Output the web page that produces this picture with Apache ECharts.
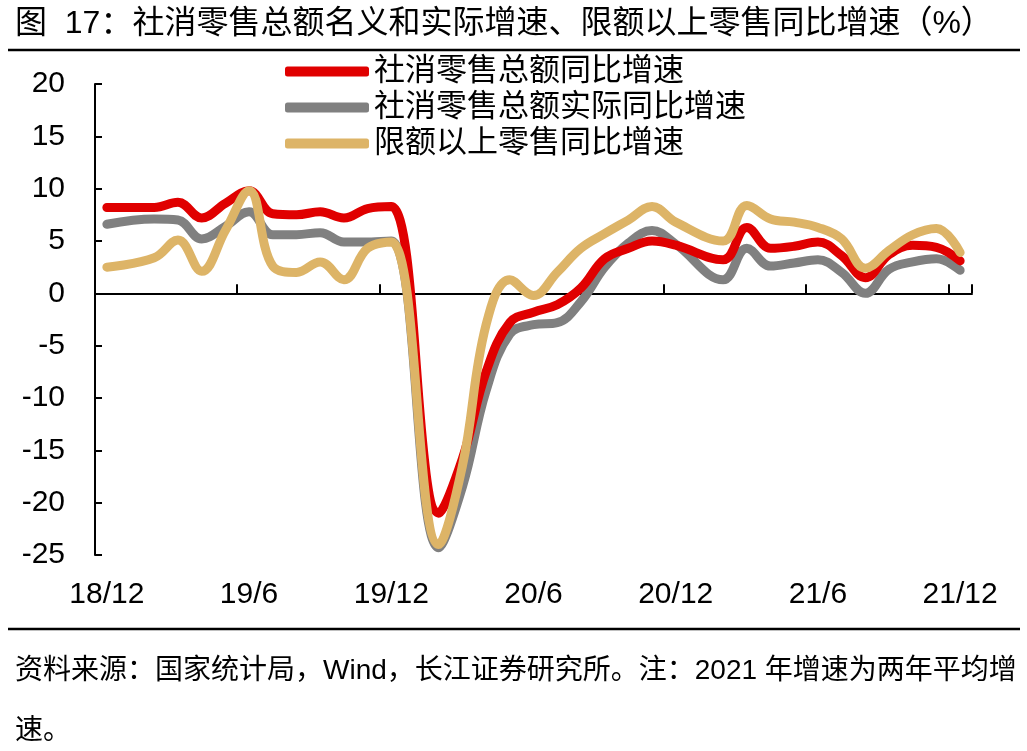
<!DOCTYPE html>
<html>
<head>
<meta charset="utf-8">
<script src="https://cdn.jsdelivr.net/npm/echarts@6/dist/echarts.min.js"></script>
<style>
html,body{margin:0;padding:0;background:#fff;}
#chart{width:1027px;height:751px;}
</style>
</head>
<body>
<div id="chart"></div>
<script>
// Monthly categories 2018-12 .. 2021-12
const categories = ['18/12','19/1','19/2','19/3','19/4','19/5','19/6','19/7','19/8','19/9','19/10','19/11','19/12',
  '20/1','20/2','20/3','20/4','20/5','20/6','20/7','20/8','20/9','20/10','20/11','20/12',
  '21/1','21/2','21/3','21/4','21/5','21/6','21/7','21/8','21/9','21/10','21/11','21/12'];

// 社消零售总额同比增速 (Jan values not published separately -> null)
const nominal = [8.2,null,8.2,8.7,7.2,8.6,9.8,7.6,7.5,7.8,7.2,8.1,8.3,
  null,-21.0,-15.8,-7.5,-2.8,-1.8,-1.1,0.5,3.3,4.3,5.0,4.6,
  null,3.2,6.3,4.3,4.5,4.9,3.6,1.5,3.7,4.6,4.4,3.1];
// 社消零售总额实际同比增速
const real = [6.6,null,7.1,7.0,5.2,6.4,7.8,5.6,5.6,5.8,4.9,4.9,5.0,
  null,-24.3,-18.5,-9.3,-3.9,-3.0,-2.8,-0.8,2.5,4.8,6.0,4.7,
  null,1.3,4.3,2.6,2.9,3.2,2.0,0.0,2.3,3.0,3.3,2.2];
// 限额以上零售同比增速
const aboveQuota = [2.5,null,3.4,5.1,2.1,6.0,9.8,2.6,2.0,3.0,1.3,4.3,4.9,
  null,-24.0,-16.5,-3.0,1.3,-0.2,2.0,4.3,5.7,7.0,8.3,6.8,
  null,5.0,8.4,7.1,6.8,6.3,5.2,2.4,4.1,5.6,6.2,3.9];

const yTicks = {min:-25, max:20, interval:5};

const names = ['社消零售总额同比增速','社消零售总额实际同比增速','限额以上零售同比增速'];
const colors = ['#E00000','#808080','#DDB467'];

const FONT = '"Liberation Sans", Arial, "Noto Sans CJK SC", sans-serif';

const chart = echarts.init(document.getElementById('chart'));
function mkSeries(i, data, z){
  return {
    name: names[i], type:'line', data: data, xAxisIndex:0, yAxisIndex:0,
    smooth:0.4, connectNulls:true, symbol:'none', z:z,
    lineStyle:{color:colors[i], width:9, cap:'round', join:'round'},
    itemStyle:{color:colors[i]}
  };
}
chart.setOption({
  animation:false,
  backgroundColor:'#fff',
  textStyle:{fontFamily:FONT},
  grid:{left:95, right:55, top:84, bottom:196, containLabel:false},
  legend:{
    data:names, orient:'vertical', left:280, top:50,
    itemWidth:84, itemHeight:10, itemGap:3, icon:'roundRect',
    textStyle:{fontSize:31, color:'#000', fontFamily:FONT, lineHeight:33}
  },
  xAxis:[{
    type:'category', data:categories, boundaryGap:true, position:'bottom',
    axisLine:{show:false, onZero:false}, axisTick:{show:false},
    axisLabel:{interval:5, fontSize:30, color:'#000', margin:25, fontFamily:FONT},
    splitLine:{show:false}
  },{
    type:'category', data:categories, boundaryGap:true, position:'bottom',
    axisLine:{show:true, onZero:true, lineStyle:{color:'#000', width:2}},
    axisTick:{show:true, inside:true, interval:5, length:9, lineStyle:{color:'#000', width:2}},
    axisLabel:{show:false}, splitLine:{show:false}
  }],
  yAxis:{
    type:'value', min:yTicks.min, max:yTicks.max, interval:yTicks.interval,
    axisLine:{show:true, lineStyle:{color:'#000', width:2}},
    axisTick:{show:true, inside:true, length:7, lineStyle:{color:'#000', width:2}},
    axisLabel:{fontSize:30, color:'#000', margin:30, fontFamily:FONT},
    splitLine:{show:false}
  },
  series:[ mkSeries(1, real, 2), mkSeries(0, nominal, 3), mkSeries(2, aboveQuota, 4) ],
  graphic:[
    {type:'text', left:15, top:8, style:{text:'图  17：社消零售总额名义和实际增速、限额以上零售同比增速（%）', fontSize:32, fill:'#000', fontFamily:FONT}},
    {type:'line', shape:{x1:8, y1:50, x2:1020, y2:50}, style:{stroke:'#000', lineWidth:2.5}},
    {type:'line', shape:{x1:8, y1:629, x2:1020, y2:629}, style:{stroke:'#000', lineWidth:2.5}},
    {type:'text', left:15, top:657, style:{text:'资料来源：国家统计局，Wind，长江证券研究所。注：2021 年增速为两年平均增', fontSize:28, fill:'#000', fontFamily:FONT}},
    {type:'text', left:15, top:717, style:{text:'速。', fontSize:28, fill:'#000', fontFamily:FONT}}
  ]
});
</script>
</body>
</html>
